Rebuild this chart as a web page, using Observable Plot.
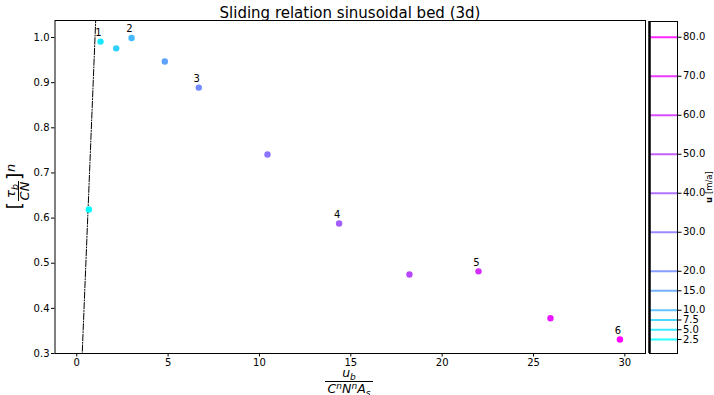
<!DOCTYPE html>
<html><head><meta charset="utf-8">
<script src="https://cdn.jsdelivr.net/npm/d3@7"></script>
<script src="https://cdn.jsdelivr.net/npm/@observablehq/plot@0.6"></script>
<style>
body{margin:0;background:#fff;}
#wrap{position:relative;width:714px;height:395px;font-family:"DejaVu Sans",sans-serif;}
#wrap svg{position:absolute;left:0;top:0;overflow:visible;}
</style></head><body><div id="wrap"></div>
<script>
const titleText = "Sliding relation sinusoidal bed (3d)";
const xValues = [0.66, 1.30, 2.16, 3.00, 4.82, 6.68, 10.44, 14.36, 18.21, 21.99, 25.93, 29.73];
const yValues = [0.619, 0.991, 0.976, 0.999, 0.947, 0.889, 0.741, 0.588, 0.475, 0.482, 0.378, 0.331];
const uValues = [2.5, 5, 7.5, 10, 15, 20, 30, 40, 50, 60, 70, 80];
const pointLabels = ["", "1", "", "2", "", "3", "", "4", "", "5", "", "6"];
const refLineX = [0, 1.2];
const refLineY = [0, 1.2];
const xTicks = [0, 5, 10, 15, 20, 25, 30];
const yTicks = [0.3, 0.4, 0.5, 0.6, 0.7, 0.8, 0.9, 1.0];
const colorTicks = uValues;

const data = xValues.map((x, i) => ({x, y: yValues[i], u: uValues[i], idx: i, label: pointLabels[i]}));
const refLine = refLineX.map((x, i) => ({x, y: refLineY[i]}));
const colorScale = {type: "linear", domain: [0, uValues.length - 1], range: ["#00ffff", "#ff00ff"], interpolate: "rgb"};
const baseStyle = {fontFamily: "DejaVu Sans", fontSize: "10px", color: "#000", background: "transparent"};

const main = Plot.plot({
  width: 714, height: 395,
  marginLeft: 54.5, marginRight: 69, marginTop: 20, marginBottom: 42,
  style: baseStyle,
  x: {domain: [-1.19, 31.13]},
  y: {domain: [0.3, 1.0377]},
  color: colorScale,
  marks: [
    Plot.line(refLine, {x: "x", y: "y", stroke: "#000", strokeWidth: 1, strokeDasharray: "6.4,1.6,1,1.6", clip: true}),
    Plot.dot(data, {x: "x", y: "y", r: 3.2, fill: "idx", stroke: null}),
    Plot.text(data.filter(d => d.label), {x: "x", y: "y", text: "label", dy: -9, dx: -2, fontSize: 10, fill: "#000"}),
    Plot.frame({stroke: "#000", strokeWidth: 1}),
    Plot.axisX({ticks: xTicks, tickFormat: d => String(d), tickSize: 3.5, tickPadding: 2, label: null}),
    Plot.axisY({ticks: yTicks, tickFormat: ".1f", tickSize: 3.5, tickPadding: 2, label: null})
  ]
});

const cbar = Plot.plot({
  width: 714, height: 395,
  marginLeft: 649, marginRight: 37, marginTop: 21, marginBottom: 42,
  style: baseStyle,
  x: {domain: [0, 1], axis: null},
  y: {domain: [-1.09, 84.04], axis: null},
  color: colorScale,
  marks: [
    Plot.ruleY(data, {y: "u", stroke: "idx", strokeWidth: 2, strokeOpacity: 0.85}),
    Plot.frame({stroke: "#000", strokeWidth: 1}),
    Plot.ruleX([0], {stroke: "#000", strokeWidth: 2.5}),
    Plot.axisY({anchor: "right", ticks: colorTicks, tickFormat: ".1f", tickSize: 3.5, tickPadding: 2, label: null})
  ]
});

const wrap = document.getElementById("wrap");
wrap.appendChild(main);
wrap.appendChild(cbar);

const svg = d3.select(main);
// title
svg.append("text").attr("x", 350).attr("y", 18).attr("text-anchor", "middle")
  .style("font-family", "DejaVu Sans").style("font-size", "15px").attr("fill", "#000").text(titleText);

// y label: [tau_b / CN]^n
const gy = svg.append("g").attr("transform", "translate(16,191) rotate(-90)")
  .style("font-family", "DejaVu Sans").attr("fill", "#000");
gy.append("text").attr("x", -11).attr("y", 5).attr("text-anchor", "end").style("font-size", "19px").text("[");
const num = gy.append("text").attr("x", 0).attr("y", -1).attr("text-anchor", "middle").style("font-size", "13px");
num.append("tspan").style("font-style", "italic").text("τ");
num.append("tspan").attr("dy", 3).style("font-size", "9.5px").style("font-style", "italic").text("b");
gy.append("line").attr("x1", -10).attr("x2", 10).attr("y1", 2.5).attr("y2", 2.5).attr("stroke", "#000").attr("stroke-width", 1);
gy.append("text").attr("x", 0).attr("y", 13).attr("text-anchor", "middle").style("font-size", "13px").style("font-style", "italic").text("CN");
gy.append("text").attr("x", 11).attr("y", 5).attr("text-anchor", "start").style("font-size", "19px").text("]");
gy.append("text").attr("x", 19).attr("y", -1).attr("text-anchor", "start").style("font-size", "13px").style("font-style", "italic").text("n");

// x label: u_b / (C^n N^n A_s)
const gx = svg.append("g").style("font-family", "DejaVu Sans").attr("fill", "#000");
const xn = gx.append("text").attr("x", 349).attr("y", 377).attr("text-anchor", "middle").style("font-size", "12.5px").style("font-style", "italic");
xn.append("tspan").text("u");
xn.append("tspan").attr("dy", 2.5).style("font-size", "9px").text("b");
gx.append("line").attr("x1", 325).attr("x2", 373).attr("y1", 381.5).attr("y2", 381.5).attr("stroke", "#000").attr("stroke-width", 1);
const xd = gx.append("text").attr("x", 349).attr("y", 393).attr("text-anchor", "middle").style("font-size", "12.5px").style("font-style", "italic");
xd.append("tspan").text("C");
xd.append("tspan").attr("dy", -4.5).style("font-size", "9px").text("n");
xd.append("tspan").attr("dy", 4.5).text("N");
xd.append("tspan").attr("dy", -4.5).style("font-size", "9px").text("n");
xd.append("tspan").attr("dy", 4.5).text("A");
xd.append("tspan").attr("dy", 2.5).style("font-size", "9px").text("s");

// colorbar label
const gc = d3.select(cbar).append("text").attr("transform", "translate(712,187) rotate(-90)")
  .attr("text-anchor", "middle").style("font-family", "DejaVu Sans").style("font-size", "8.5px").attr("fill", "#000");
gc.append("tspan").style("font-weight", "bold").text("u");
gc.append("tspan").text(" [m/a]");
</script></body></html>
